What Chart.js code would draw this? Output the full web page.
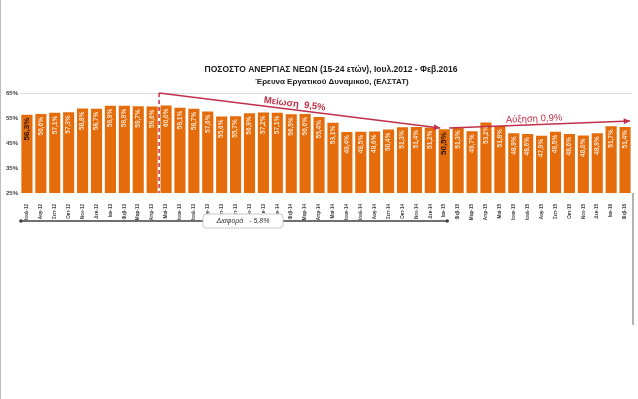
<!DOCTYPE html>
<html>
<head>
<meta charset="utf-8">
<script src="https://cdn.jsdelivr.net/npm/chart.js@4/dist/chart.umd.min.js"></script>
<style>
  html, body { margin: 0; padding: 0; background: #fff; }
  #wrap { width: 638px; height: 399px; position: relative; }
</style>
</head>
<body>
<div id="wrap"><canvas id="myChart" width="638" height="399"></canvas></div>
<script>
const months = [
  "Ιουλ-12","Αυγ-12","Σεπ-12","Οκτ-12","Νοε-12","Δεκ-12",
  "Ιαν-13","Φεβ-13","Μαρ-13","Απρ-13","Μαϊ-13","Ιουν-13","Ιουλ-13","Αυγ-13","Σεπ-13","Οκτ-13","Νοε-13","Δεκ-13",
  "Ιαν-14","Φεβ-14","Μαρ-14","Απρ-14","Μαϊ-14","Ιουν-14","Ιουλ-14","Αυγ-14","Σεπ-14","Οκτ-14","Νοε-14","Δεκ-14",
  "Ιαν-15","Φεβ-15","Μαρ-15","Απρ-15","Μαϊ-15","Ιουν-15","Ιουλ-15","Αυγ-15","Σεπ-15","Οκτ-15","Νοε-15","Δεκ-15",
  "Ιαν-16","Φεβ-16"
];
const rates = [
  56.3, 56.6, 57.1, 57.3, 58.8, 58.7,
  59.9, 59.9, 59.7, 59.6, 60.0, 59.1, 58.7, 57.6, 55.6, 55.7, 56.9, 57.2,
  57.1, 56.5, 56.6, 55.4, 53.1, 49.4, 49.5, 49.6, 50.4, 51.3, 51.4, 51.2,
  50.5, 51.3, 49.7, 53.2, 51.8, 48.9, 48.6, 47.9, 49.5, 48.6, 48.0, 48.9,
  51.7, 51.4
];
const yTicks = [25, 35, 45, 55, 65];
const highlighted = [0, 30];

const titleLines = ["ΠΟΣΟΣΤΟ ΑΝΕΡΓΙΑΣ ΝΕΩΝ (15-24 ετών), Ιουλ.2012 - Φεβ.2016", "Έρευνα Εργατικού Δυναμικού, (ΕΛΣΤΑΤ)"];
const dropText = "Μείωση  9,5%";
const riseText = "Αύξηση 0,9%";
const diffText = "Διαφορά   - 5,8%";

const fontFam = "'Liberation Sans', Arial, sans-serif";
const red = "#c0304a";

function fmt(v) { return v.toFixed(1).replace(".", ",") + "%"; }

function arrow(ctx, x1, y1, x2, y2) {
  ctx.beginPath();
  ctx.moveTo(x1, y1);
  ctx.lineTo(x2, y2);
  ctx.stroke();
  const a = Math.atan2(y2 - y1, x2 - x1);
  ctx.beginPath();
  ctx.moveTo(x2, y2);
  ctx.lineTo(x2 - 7 * Math.cos(a - 0.45), y2 - 7 * Math.sin(a - 0.45));
  ctx.lineTo(x2 - 7 * Math.cos(a + 0.45), y2 - 7 * Math.sin(a + 0.45));
  ctx.closePath();
  ctx.fill();
}

const extras = {
  id: "extras",
  afterDatasetsDraw(chart) {
    const ctx = chart.ctx;
    const xs = chart.scales.x, ys = chart.scales.y;
    const meta = chart.getDatasetMeta(0);

    // bar labels
    meta.data.forEach((bar, i) => {
      const hl = highlighted.includes(i);
      ctx.save();
      ctx.translate(bar.x, bar.y + 3);
      ctx.rotate(-Math.PI / 2);
      ctx.textAlign = "right";
      ctx.textBaseline = "middle";
      ctx.font = (hl ? "bold 8px " : "bold 6.5px ") + fontFam;
      ctx.fillStyle = hl ? "#2a1400" : "#fbe3cf";
      ctx.fillText(fmt(rates[i]), 0, 0);
      ctx.restore();
    });

    // title
    ctx.save();
    ctx.fillStyle = "#1a1a1a";
    ctx.textAlign = "center";
    ctx.textBaseline = "middle";
    ctx.font = "bold 8.5px " + fontFam;
    ctx.fillText(titleLines[0], 331, 70);
    ctx.font = "bold 8px " + fontFam;
    ctx.fillText(titleLines[1], 332, 82);
    ctx.restore();

    // annotations
    const xMid = (xs.getPixelForValue(9) + xs.getPixelForValue(10)) / 2;
    const yTop = ys.getPixelForValue(65), yBot = ys.getPixelForValue(25);
    ctx.save();
    ctx.strokeStyle = red;
    ctx.fillStyle = red;
    ctx.lineWidth = 1.5;
    ctx.setLineDash([4, 3]);
    ctx.beginPath();
    ctx.moveTo(xMid, yTop);
    ctx.lineTo(xMid, yBot);
    ctx.stroke();
    ctx.setLineDash([]);

    const ex = xs.getPixelForValue(30) - 4, ey = ys.getPixelForValue(51);
    arrow(ctx, xMid, yTop, ex, ey);
    const sx2 = xs.getPixelForValue(30) + 5, sy2 = ys.getPixelForValue(51);
    const ex2 = xs.getPixelForValue(43) + 5, ey2 = ys.getPixelForValue(53.8);
    arrow(ctx, sx2, sy2, ex2, ey2);

    ctx.font = "bold 9.5px " + fontFam;
    ctx.textAlign = "center";
    ctx.textBaseline = "bottom";
    let a = Math.atan2(ey - yTop, ex - xMid);
    ctx.save();
    ctx.translate(xMid + (ex - xMid) * 0.48, yTop + (ey - yTop) * 0.48 - 1);
    ctx.rotate(a);
    ctx.fillText(dropText, 0, 0);
    ctx.restore();
    ctx.font = "9.5px " + fontFam;
    a = Math.atan2(ey2 - sy2, ex2 - sx2);
    ctx.save();
    ctx.translate(sx2 + (ex2 - sx2) * 0.47, sy2 + (ey2 - sy2) * 0.47 - 1);
    ctx.rotate(a);
    ctx.fillText(riseText, 0, 0);
    ctx.restore();
    ctx.restore();

    // difference bracket
    const by = yBot + 28;
    const bx1 = xs.getPixelForValue(0) - 6, bx2 = xs.getPixelForValue(30) + 3;
    ctx.save();
    ctx.strokeStyle = "#404040";
    ctx.fillStyle = "#404040";
    ctx.lineWidth = 1.5;
    ctx.beginPath();
    ctx.moveTo(bx1, by);
    ctx.lineTo(bx2, by);
    ctx.stroke();
    [bx1, bx2].forEach(x => { ctx.beginPath(); ctx.arc(x, by, 1.8, 0, Math.PI * 2); ctx.fill(); });
    ctx.fillStyle = "#fff";
    ctx.strokeStyle = "#c8c8c8";
    ctx.lineWidth = 1;
    ctx.beginPath();
    ctx.roundRect(203, by - 7, 80, 14, 3);
    ctx.fill();
    ctx.stroke();
    ctx.fillStyle = "#333";
    ctx.font = "italic 7px " + fontFam;
    ctx.textAlign = "center";
    ctx.textBaseline = "middle";
    ctx.fillText(diffText, 243, by);
    ctx.restore();

    // frame lines
    ctx.save();
    ctx.strokeStyle = "#bdbdbd";
    ctx.lineWidth = 1;
    ctx.beginPath();
    ctx.moveTo(0.5, 0);
    ctx.lineTo(0.5, 399);
    ctx.stroke();
    ctx.strokeStyle = "#9a9a9a";
    ctx.lineWidth = 1.5;
    ctx.beginPath();
    ctx.moveTo(xs.right + 1, yBot);
    ctx.lineTo(xs.right + 1, 325);
    ctx.stroke();
    ctx.restore();
  }
};

const ctx = document.getElementById("myChart").getContext("2d");
const myChart = new Chart(ctx, {
  type: "bar",
  data: {
    labels: months,
    datasets: [{
      data: rates,
      backgroundColor: "#e46c0a",
      borderColor: "#d0600a",
      borderWidth: 0,
      categoryPercentage: 0.8,
      barPercentage: 1.0
    }]
  },
  options: {
    responsive: false,
    animation: false,
    devicePixelRatio: 1,
    layout: { padding: { left: 0, right: 6, top: 93, bottom: 176 } },
    plugins: { legend: { display: false }, tooltip: { enabled: false } },
    scales: {
      x: {
        grid: { display: false },
        border: { display: false },
        ticks: {
          autoSkip: false, minRotation: 90, maxRotation: 90, padding: 3,
          color: "#404040", font: { size: 4.6, family: fontFam, weight: "bold" }
        },
        afterFit: (s) => { s.height = 30; }
      },
      y: {
        min: 25, max: 65,
        afterBuildTicks: (s) => { s.ticks = yTicks.map(v => ({ value: v })); },
        grid: { color: (c) => c.tick && c.tick.value === 65 ? "#dcdcdc" : "rgba(0,0,0,0)", drawTicks: false },
        border: { display: false },
        ticks: {
          padding: 2, color: "#404040",
          font: { size: 6, family: fontFam, weight: "bold" },
          callback: (v) => v + "%"
        },
        afterFit: (s) => { s.width = 20; }
      }
    }
  },
  plugins: [extras]
});
</script>
</body>
</html>
